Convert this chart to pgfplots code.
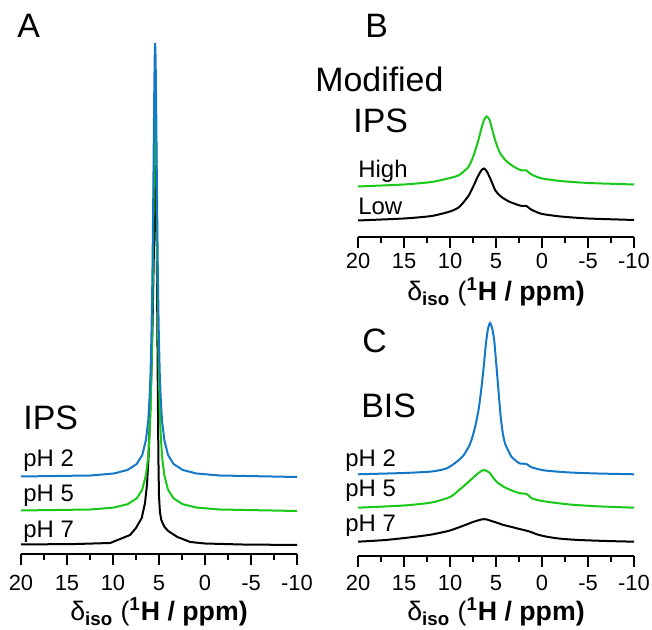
\documentclass[border=0pt]{standalone}
\usepackage{pgfplots}
\pgfplotsset{compat=1.18}
\usepackage{fontspec}
\setmainfont{Liberation Sans}

\definecolor{specblue}{RGB}{20,120,200}
\definecolor{specgreen}{RGB}{25,200,25}

\newcommand{\bigfont}{\fontsize{17}{20}\selectfont}
\newcommand{\labfont}{\fontsize{12}{14}\selectfont}
\newcommand{\axlab}{δ\textsubscript{\textbf{iso}} (\textsuperscript{\textbf{1}}\textbf{H / ppm)}}

\pgfplotsset{
  nmr/.style={
    scale only axis,
    width=138bp,
    xmin=-10, xmax=20,
    x dir=reverse,
    ymin=0,
    hide y axis,
    axis x line=bottom,
    x axis line style={-, line width=1bp},
    xtick={-10,-5,...,20},
    xticklabels={-10,-5,0,5,10,15,20},
    minor x tick num=1,
    tick align=outside,
    major tick length=5.5bp,
    minor tick length=3bp,
    every tick/.style={black, line width=1bp},
    xticklabel style={font=\fontsize{11}{13}\selectfont, anchor=base, yshift=-13bp},
    clip=false,
    every axis plot/.append style={line width=1bp},
  },
}

\begin{document}
\begin{tikzpicture}[x=0.5bp, y=0.5bp]
\useasboundingbox (0,0) rectangle (652,630);

% panel A
\begin{axis}[nmr, at={(10.5bp,38bp)}, anchor=south west, height=262bp, ymax=524]
\addplot[black] coordinates {
  (20,9.5) (14,10) (10.3,11) (8.15,19) (7.5,26) (6.88,36) (6.52,51) (6.3,70)
  (6.15,95) (6.0,130) (5.85,175) (5.7,230) (5.6,280) (5.5,330) (5.42,370)
  (5.35,389) (5.3,370) (5.25,320) (5.2,255) (5.15,190) (5.1,130) (5.05,85)
  (5.0,58) (4.9,42) (4.75,34) (4.4,27) (4.0,23) (3.0,17) (1.6,12) (0,10.5)
  (-4,9.5) (-10,9)
};
\addplot[specgreen] coordinates {
  (20,43.5) (12.42,44.5) (9.92,46.4) (8.42,49.8) (7.42,55.6) (6.82,64.3)
  (6.42,78.9) (6.17,97.3) (6.02,120.6) (5.92,143.9) (5.82,180.7) (5.72,235)
  (5.62,317.5) (5.57,366) (5.52,413.5) (5.47,450.4) (5.42,464) (5.37,450.4)
  (5.32,413.5) (5.27,366) (5.22,317.5) (5.12,235) (5.02,180.7) (4.92,143.9)
  (4.82,120.6) (4.67,97.3) (4.42,78.9) (4.02,64.3) (3.42,55.6) (2.42,49.8)
  (0.92,46.4) (-1.58,44.5) (-10,43)
};
\addplot[specblue] coordinates {
  (20,77.5) (12.42,78.5) (9.92,80.5) (8.42,84) (7.42,90) (6.82,99) (6.42,114)
  (6.17,133) (6.02,157) (5.92,181) (5.82,219) (5.72,275) (5.62,360) (5.57,410)
  (5.52,459) (5.47,497) (5.42,511) (5.37,497) (5.32,459) (5.27,410) (5.22,360)
  (5.12,275) (5.02,219) (4.92,181) (4.82,157) (4.67,133) (4.42,114) (4.02,99)
  (3.42,90) (2.42,84) (0.92,80.5) (-1.58,78.5) (-10,77)
};
\end{axis}

% panel B
\begin{axis}[nmr, at={(179bp,196.5bp)}, anchor=south west, height=68.5bp, ymax=137,
  xticklabel style={yshift=2.5bp}]
\addplot[black, smooth, tension=0.4] coordinates {
  (20,16.5) (15,18.5) (12,21) (10,25.5) (9,30) (8,41) (7.5,50) (7,60) (6.6,66.5)
  (6.3,68.5) (6.0,65.5) (5.6,58) (5.1,47) (4.6,41.5) (4.2,38.7) (3.6,35.5)
  (3.1,33.7) (2.6,32) (2.2,31) (1.7,31) (1.2,27.5) (0.6,25) (0,23) (-2,20.5)
  (-5,18.5) (-10,17)
};
\addplot[specgreen, smooth, tension=0.4] coordinates {
  (20,50.5) (15,52.5) (12,55) (10,59) (9,62) (8,70) (7.5,80) (7,94) (6.6,108)
  (6.3,117) (6.0,120.5) (5.7,117) (5.4,107) (5.1,97) (4.8,89) (4.5,83) (4.0,77)
  (3.5,73) (3.0,70) (2.5,67.5) (2.1,66.5) (1.7,66.5) (1.3,63.5) (0.8,61) (0,58.5)
  (-2,56) (-5,54) (-10,52.5)
};
\end{axis}

% panel C
\begin{axis}[nmr, at={(179bp,37bp)}, anchor=south west, height=123bp, ymax=246,
  xticklabel style={yshift=1bp}]
\addplot[black, smooth, tension=0.4] coordinates {
  (20,14.3) (17,16) (14,19) (12,21.5) (10,25.5) (8.5,30.5) (7.5,34) (6.5,36.7)
  (6.0,36.5) (5.5,35) (4.8,33) (4.2,31) (3.5,29.5) (2.75,27.7) (2.0,26) (1.3,24.3)
  (0.5,21.5) (-0.5,19.3) (-2,17.3) (-4,16) (-7,15) (-10,14.3)
};
\addplot[specgreen, smooth, tension=0.4] coordinates {
  (20,48.3) (15,50.5) (12,53.5) (10,59) (9,66) (8,74) (7.3,80) (6.9,83) (6.5,85.5)
  (6.3,86) (6.0,85) (5.65,82.7) (5.2,77) (4.74,72.7) (4.3,70) (3.84,67.7) (3.0,64.5)
  (2.39,62.7) (1.66,62) (1.12,57.7) (0.5,56) (-0.5,54.3) (-3,51.5) (-6,49.7) (-10,48.3)
};
\addplot[specblue, smooth, tension=0.4] coordinates {
  (20,81.7) (15,83) (12,84.5) (10.4,87.5) (9.3,94) (8.5,101) (7.8,112.5) (7.3,128)
  (6.9,146) (6.6,167) (6.35,188) (6.1,212) (5.9,226) (5.65,233) (5.4,227) (5.2,216)
  (5.0,195) (4.8,173) (4.5,140) (4.25,122) (4.0,112) (3.6,104) (3.3,99) (2.8,95)
  (2.4,92.5) (1.7,92) (1.2,89) (0.5,87) (-0.5,85.3) (-3,83.5) (-6,82.5) (-10,81.7)
};
\end{axis}

% axis titles
\node[anchor=base, inner sep=0, font=\fontsize{13.4}{16}\selectfont] at (159,9) {\axlab};
\node[anchor=base, inner sep=0, font=\fontsize{13.4}{16}\selectfont] at (496,329) {\axlab};
\node[anchor=base, inner sep=0, font=\fontsize{13.4}{16}\selectfont] at (496,9) {\axlab};

% panel letters and labels
\node[anchor=base west, inner sep=0, font=\bigfont] at (17,592) {A};
\node[anchor=base west, inner sep=0, font=\bigfont] at (23,200) {IPS};
\node[anchor=base west, inner sep=0, font=\labfont] at (23,163) {pH 2};
\node[anchor=base west, inner sep=0, font=\labfont] at (23,128) {pH 5};
\node[anchor=base west, inner sep=0, font=\labfont] at (23,92) {pH 7};

\node[anchor=base west, inner sep=0, font=\bigfont] at (365,592) {B};
\node[anchor=base west, inner sep=0, font=\bigfont] at (315,538) {Modified};
\node[anchor=base west, inner sep=0, font=\bigfont] at (353,497) {IPS};
\node[anchor=base west, inner sep=0, font=\labfont] at (358,452) {High};
\node[anchor=base west, inner sep=0, font=\labfont] at (358,415) {Low};

\node[anchor=base west, inner sep=0, font=\bigfont] at (362,277) {C};
\node[anchor=base west, inner sep=0, font=\bigfont] at (361,212) {BIS};
\node[anchor=base west, inner sep=0, font=\labfont] at (345,163) {pH 2};
\node[anchor=base west, inner sep=0, font=\labfont] at (345,133) {pH 5};
\node[anchor=base west, inner sep=0, font=\labfont] at (345,98) {pH 7};
\end{tikzpicture}
\end{document}
